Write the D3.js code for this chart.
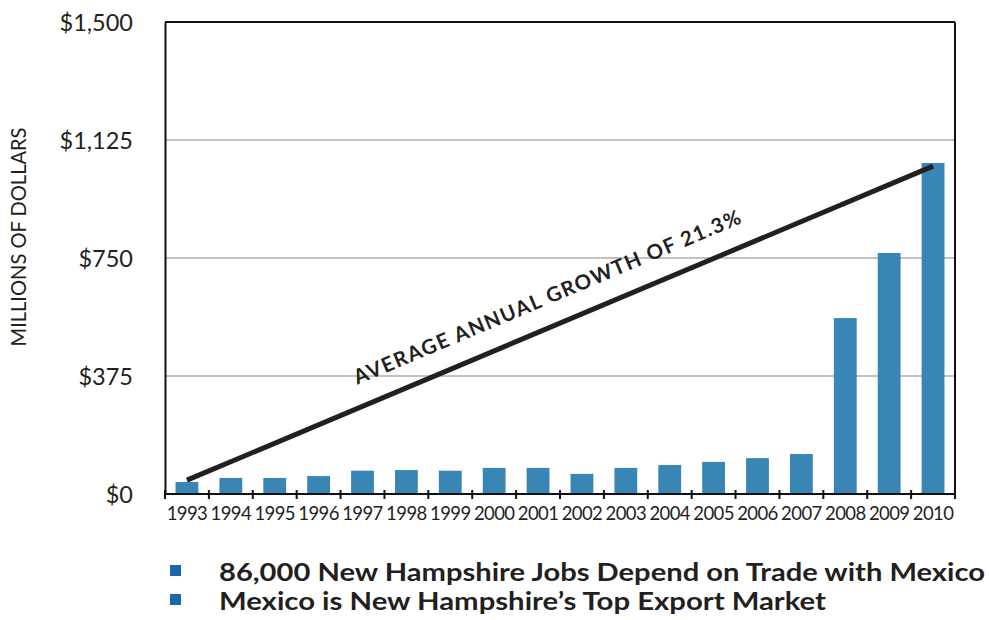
<!DOCTYPE html>
<html>
<head>
<meta charset="utf-8">
<script src="https://cdnjs.cloudflare.com/ajax/libs/d3/7.8.5/d3.min.js"></script>
<style>
  html, body { margin: 0; padding: 0; background: #fff; }
  svg { display: block; }
  text { font-family: Lato, "Open Sans", sans-serif; fill: #231f20; }
</style>
</head>
<body>
<svg id="chart" width="989" height="620"></svg>
<script>
// New Hampshire exports to Mexico, millions of dollars
const years = ["1993","1994","1995","1996","1997","1998","1999","2000","2001",
               "2002","2003","2004","2005","2006","2007","2008","2009","2010"];
const exportsValue = [38, 51, 51, 57, 74, 76, 74, 83, 83,
                      64, 83, 92, 102, 114, 127, 559, 766, 1052];

// Axis ticks
const yTicks = [0, 375, 750, 1125, 1500];

// Average growth trend line (start / end)
const trendYears = ["1993", "2010"];
const trendValues = [44, 1042];
const trendLabel = "AVERAGE ANNUAL GROWTH OF 21.3%";

const yTitle = "MILLIONS OF DOLLARS";
const notes = [
  "86,000 New Hampshire Jobs Depend on Trade with Mexico",
  "Mexico is New Hampshire\u2019s Top Export Market"
];

const svg = d3.select("#chart");
const plot = { left: 165, right: 955, top: 22, bottom: 494 };

const x = d3.scaleBand()
  .domain(years)
  .range([plot.left, plot.right])
  .paddingInner(0.48)
  .paddingOuter(0.24);

const y = d3.scaleLinear()
  .domain([0, 1500])
  .range([plot.bottom, plot.top]);

// Horizontal gridlines
svg.append("g")
  .selectAll("line")
  .data(yTicks.filter(d => d > 0 && d < 1500))
  .join("line")
  .attr("x1", plot.left).attr("x2", plot.right)
  .attr("y1", d => y(d)).attr("y2", d => y(d))
  .attr("stroke", "#c2c2c2")
  .attr("stroke-width", 2);

// Bars
svg.append("g")
  .selectAll("rect")
  .data(years.map((yr, i) => ({ yr, v: exportsValue[i] })))
  .join("rect")
  .attr("x", d => x(d.yr))
  .attr("width", x.bandwidth())
  .attr("y", d => y(d.v))
  .attr("height", d => y(0) - y(d.v) - 1)
  .attr("fill", "#3985b6");

// Frame: top and right border lines
svg.append("line")
  .attr("x1", plot.left).attr("x2", plot.right)
  .attr("y1", plot.top).attr("y2", plot.top)
  .attr("stroke", "#111").attr("stroke-width", 2);
svg.append("line")
  .attr("x1", plot.right).attr("x2", plot.right)
  .attr("y1", plot.top).attr("y2", plot.bottom)
  .attr("stroke", "#111").attr("stroke-width", 2);

// Y axis
const yAxis = svg.append("g")
  .attr("transform", `translate(${plot.left},0)`)
  .call(d3.axisLeft(y).tickValues(yTicks).tickSize(0).tickPadding(32)
    .tickFormat(d => "$" + d3.format(",")(d)));
yAxis.select(".domain").attr("stroke", "#111").attr("stroke-width", 2);
yAxis.selectAll("text")
  .style("font-family", "Lato, sans-serif")
  .style("font-size", "23.5px")
  .attr("fill", "#231f20")
  .attr("dy", "0.36em");

// X axis (labels centred in bands, ticks on band boundaries)
const xAxis = svg.append("g")
  .attr("transform", `translate(0,${plot.bottom})`)
  .call(d3.axisBottom(x).tickSize(0).tickPadding(13));
xAxis.select(".domain").remove();
xAxis.selectAll("text")
  .style("font-family", "Lato, sans-serif")
  .style("font-size", "18.5px")
  .style("letter-spacing", "-0.6px")
  .attr("fill", "#231f20");

svg.append("line")
  .attr("x1", plot.left - 1).attr("x2", plot.right + 1)
  .attr("y1", plot.bottom).attr("y2", plot.bottom)
  .attr("stroke", "#111").attr("stroke-width", 2);

const step = x.step();
const boundaries = d3.range(years.length + 1).map(i => plot.left + i * step);
svg.append("g")
  .selectAll("line")
  .data(boundaries)
  .join("line")
  .attr("x1", d => d).attr("x2", d => d)
  .attr("y1", plot.bottom - 4).attr("y2", plot.bottom + 5)
  .attr("stroke", "#111").attr("stroke-width", 2);

// Y axis title
svg.append("text")
  .attr("transform", `translate(26,237) rotate(-90)`)
  .attr("text-anchor", "middle")
  .style("font-size", "21.5px")
  .attr("textLength", 219)
  .attr("lengthAdjust", "spacingAndGlyphs")
  .text(yTitle);

// Trend line
const tx0 = x(trendYears[0]) + x.bandwidth() / 2;
const tx1 = x(trendYears[1]) + x.bandwidth() / 2;
const ty0 = y(trendValues[0]);
const ty1 = y(trendValues[1]);
svg.append("line")
  .attr("x1", tx0).attr("y1", ty0)
  .attr("x2", tx1).attr("y2", ty1)
  .attr("stroke", "#231f20")
  .attr("stroke-width", 5);

const angle = Math.atan2(ty1 - ty0, tx1 - tx0) * 180 / Math.PI;
svg.append("text")
  .attr("transform", `translate(${(tx0 + tx1) / 2 - 2},${(ty0 + ty1) / 2}) rotate(${angle})`)
  .attr("y", -21)
  .attr("text-anchor", "middle")
  .style("font-size", "20.5px")
  .style("font-weight", "bold")
  .attr("textLength", 418)
  .attr("lengthAdjust", "spacing")
  .text(trendLabel);

// Notes below the chart
const noteY = [581, 610];
const noteW = [766, 607];
const notesG = svg.append("g");
notes.forEach((t, i) => {
  notesG.append("rect")
    .attr("x", 170).attr("y", noteY[i] - 16)
    .attr("width", 11).attr("height", 11)
    .attr("fill", "#1b67ab");
  notesG.append("text")
    .attr("x", 219).attr("y", noteY[i])
    .style("font-size", "25.5px")
    .style("font-weight", "bold")
    .attr("textLength", noteW[i])
    .attr("lengthAdjust", "spacingAndGlyphs")
    .text(t);
});
</script>
</body>
</html>
